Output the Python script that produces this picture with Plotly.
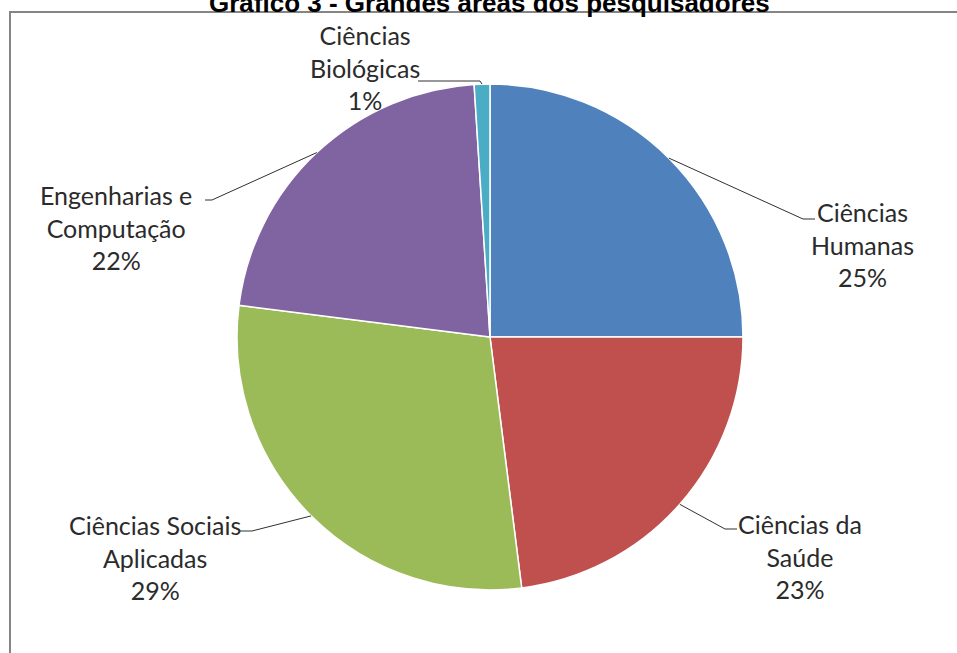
import math
import plotly.graph_objects as go

# ---- data ----
categories = ["Ciências<br>Humanas", "Ciências da<br>Saúde", "Ciências Sociais<br>Aplicadas",
              "Engenharias e<br>Computação", "Ciências<br>Biológicas"]
values = [25, 23, 29, 22, 1]
colors = ["#4F81BD", "#C0504D", "#9BBB59", "#8064A2", "#4BACC6"]
title_text = "Gráfico 3 - Grandes áreas dos pesquisadores"

# ---- layout / style (pixels) ----
W, H = 957, 653
CX, CY, R = 490, 337, 253
# label placement per slice: (text centre x, middle-line y, elbow x, elbow y, end x)
label_style = [
    (862, 244, 803, 219, 815),
    (800, 556, 725, 529, 737),
    (155, 557, 252, 531, 240),
    (116, 227, 212, 200, 205),
    (365, 68, 480, 81, 418),
]

def px(x):
    return x / W

def py(y):
    return 1 - y / H

fig = go.Figure(go.Pie(
    labels=[c.replace("<br>", " ") for c in categories],
    values=values,
    sort=False,
    direction="clockwise",
    rotation=0,
    marker=dict(colors=colors, line=dict(color="white", width=1.5)),
    textinfo="none",
    hoverinfo="label+percent",
    domain=dict(x=[px(CX - R), px(CX + R)], y=[py(CY + R), py(CY - R)]),
    showlegend=False,
))

total = sum(values)
shapes = []
annotations = []
cum = 0
for cat, v, st in zip(categories, values, label_style):
    mid = (cum + v / 2) / total * 2 * math.pi
    cum += v
    ex = CX + R * math.sin(mid)
    ey = CY - R * math.cos(mid)
    tx, ty, bx, by, endx = st
    shapes.append(dict(
        type="path", xref="paper", yref="paper",
        path=f"M {px(ex)} {py(ey)} L {px(bx)} {py(by)} L {px(endx)} {py(by)}",
        line=dict(color="#303030", width=1),
    ))
    pct = round(v / total * 100)
    annotations.append(dict(
        x=px(tx), y=py(ty), xref="paper", yref="paper",
        text=f"{cat}<br>{pct}%", showarrow=False,
        xanchor="center", yanchor="middle", align="center",
        font=dict(family="Lato", size=25, color="#2b2b2b"),
    ))

# border frame
shapes.append(dict(type="rect", xref="paper", yref="paper",
                   x0=px(10), x1=px(W + 10), y0=py(H + 10), y1=py(12),
                   line=dict(color="#858585", width=2), fillcolor="rgba(0,0,0,0)",
                   layer="below"))

annotations.append(dict(
    x=px(490), y=py(3), xref="paper", yref="paper",
    text=f"<b>{title_text}</b>", showarrow=False,
    xanchor="center", yanchor="middle",
    font=dict(family="Liberation Sans, Arial", size=26, color="#000000"),
))

fig.update_layout(
    width=W, height=H,
    margin=dict(l=0, r=0, t=0, b=0),
    paper_bgcolor="white", plot_bgcolor="white",
    shapes=shapes, annotations=annotations,
)

fig.write_html("out.html")
